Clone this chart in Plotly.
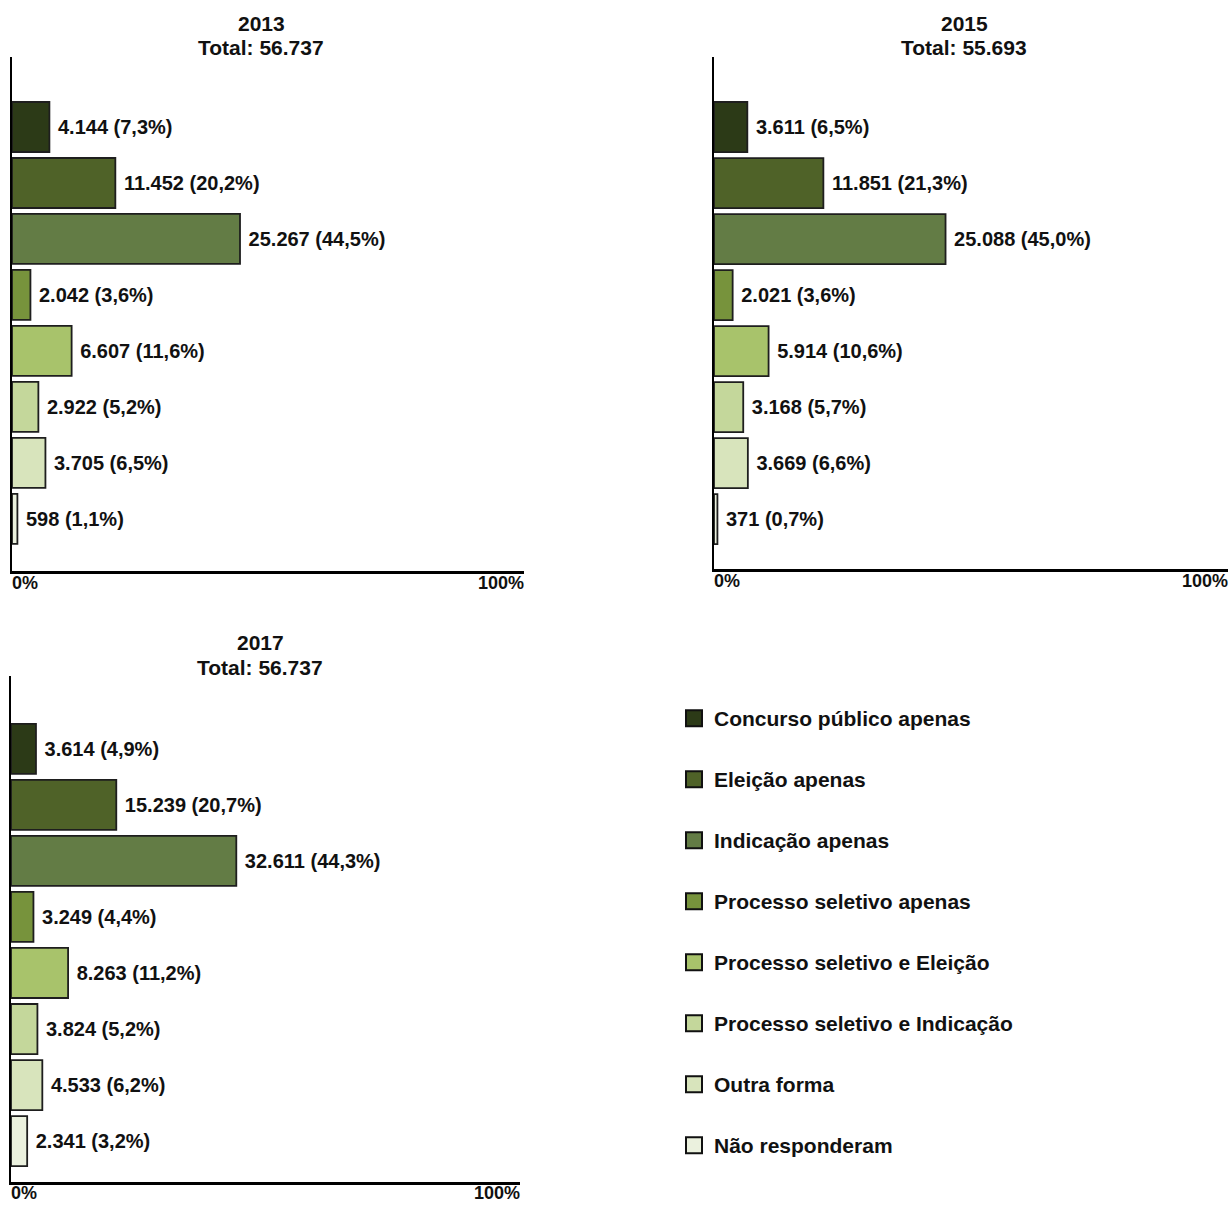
import plotly.graph_objects as go

# ---------------- data ----------------
categories = [
    "Concurso público apenas",
    "Eleição apenas",
    "Indicação apenas",
    "Processo seletivo apenas",
    "Processo seletivo e Eleição",
    "Processo seletivo e Indicação",
    "Outra forma",
    "Não responderam",
]
years = ["2013", "2015", "2017"]
total_labels = ["56.737", "55.693", "56.737"]

values_2013 = [4144, 11452, 25267, 2042, 6607, 2922, 3705, 598]
values_2015 = [3611, 11851, 25088, 2021, 5914, 3168, 3669, 371]
values_2017 = [3614, 15239, 32611, 3249, 8263, 3824, 4533, 2341]

pct_2013 = [7.3, 20.2, 44.5, 3.6, 11.6, 5.2, 6.5, 1.1]
pct_2015 = [6.5, 21.3, 45.0, 3.6, 10.6, 5.7, 6.6, 0.7]
pct_2017 = [4.9, 20.7, 44.3, 4.4, 11.2, 5.2, 6.2, 3.2]

colors = ["#2c3a17", "#4f6228", "#637c45", "#77933c",
          "#a8c36b", "#c4d79b", "#d8e4bc", "#ebf1de"]

# ---------------- layout geometry (pixels) ----------------
W, H = 1231, 1205
panels = [
    dict(x0=12, x1=524, yt=57, yb=571, yr=[7.93, -1.25], tcx=261, ty1=23, ty2=48, lab="mid"),
    dict(x0=714, x1=1228, yt=57, yb=569, yr=[7.89, -1.25], tcx=964, ty1=23, ty2=48, lab="mid"),
    dict(x0=11, x1=520, yt=676, yb=1182, yr=[7.73, -1.30], tcx=260, ty1=642, ty2=667, lab="bottom"),
]
series = [(values_2013, pct_2013), (values_2015, pct_2015), (values_2017, pct_2017)]


def fmt_int(v):
    return f"{v:,}".replace(",", ".")


def fmt_pct(p):
    return f"{p:.1f}".replace(".", ",") + "%"


fig = go.Figure()
annotations = []
layout_axes = {}

for i, (pan, (vals, pcts), yr, tot) in enumerate(zip(panels, series, years, total_labels)):
    xa = "x" if i == 0 else f"x{i+1}"
    ya = "y" if i == 0 else f"y{i+1}"
    total = sum(vals)
    for j, cat in enumerate(categories):
        fig.add_trace(go.Bar(
            x=[vals[j]], y=[cat], orientation="h",
            xaxis=xa, yaxis=ya,
            width=0.893,
            marker=dict(color=colors[j], line=dict(color="#1e1e1e", width=1.8)),
            text=[f" {fmt_int(vals[j])} ({fmt_pct(pcts[j])})"],
            textposition="outside", textangle=0, constraintext="none",
            cliponaxis=False,
            textfont=dict(family="Liberation Sans", size=20, color="#111111", weight="bold"),
            showlegend=False, hoverinfo="skip",
        ))
    xkey = "xaxis" if i == 0 else f"xaxis{i+1}"
    ykey = "yaxis" if i == 0 else f"yaxis{i+1}"
    layout_axes[xkey] = dict(
        domain=[pan["x0"] / W, pan["x1"] / W], range=[0, total],
        anchor=ya, showgrid=False, zeroline=False, showticklabels=False,
        ticks="", showline=True, linecolor="#000000", linewidth=2.5, fixedrange=True,
    )
    layout_axes[ykey] = dict(
        domain=[1 - pan["yb"] / H, 1 - pan["yt"] / H],
        type="category", categoryorder="array", categoryarray=categories,
        range=pan["yr"], anchor=xa, showgrid=False, zeroline=False,
        showticklabels=False, ticks="", showline=True, linecolor="#000000",
        linewidth=1.5, fixedrange=True,
    )
    tfont = dict(family="Liberation Sans", size=21, color="#111111", weight="bold")
    annotations.append(dict(x=pan["tcx"] / W, y=1 - pan["ty1"] / H, xref="paper", yref="paper",
                            text=yr, showarrow=False, font=tfont,
                            xanchor="center", yanchor="middle"))
    annotations.append(dict(x=pan["tcx"] / W, y=1 - pan["ty2"] / H, xref="paper", yref="paper",
                            text=f"Total: {tot}", showarrow=False, font=tfont,
                            xanchor="center", yanchor="middle"))
    kfont = dict(family="Liberation Sans", size=18, color="#111111", weight="bold")
    if pan["lab"] == "mid":
        ylab, yanc = 1 - (pan["yb"] + 12) / H, "middle"
    else:
        ylab, yanc = 0.0, "bottom"
    annotations.append(dict(x=0, xref=xa, y=ylab, yref="paper", text="0%", showarrow=False,
                            font=kfont, xanchor="left", yanchor=yanc, xshift=-2))
    annotations.append(dict(x=total, xref=xa, y=ylab, yref="paper", text="100%", showarrow=False,
                            font=kfont, xanchor="right", yanchor=yanc, xshift=2))

# legend proxies
for j, cat in enumerate(categories):
    fig.add_trace(go.Scatter(
        x=[None], y=[None], mode="markers", name=cat, legendgroup=cat,
        marker=dict(symbol="square", size=16, color=colors[j],
                    line=dict(color="#111111", width=2)),
        showlegend=True, hoverinfo="skip",
    ))

fig.update_layout(
    width=W, height=H, autosize=False,
    margin=dict(l=0, r=0, t=0, b=0),
    paper_bgcolor="white", plot_bgcolor="white",
    showlegend=True,
    legend=dict(
        x=674 / W, y=1 - 698 / H, xanchor="left", yanchor="top",
        traceorder="grouped", tracegroupgap=30.7,
        font=dict(family="Liberation Sans", size=21, color="#111111", weight="bold"),
        bgcolor="rgba(0,0,0,0)", itemclick=False, itemdoubleclick=False,
    ),
    annotations=annotations,
    bargap=0.1,
    **layout_axes,
)

fig.write_html("out.html")
